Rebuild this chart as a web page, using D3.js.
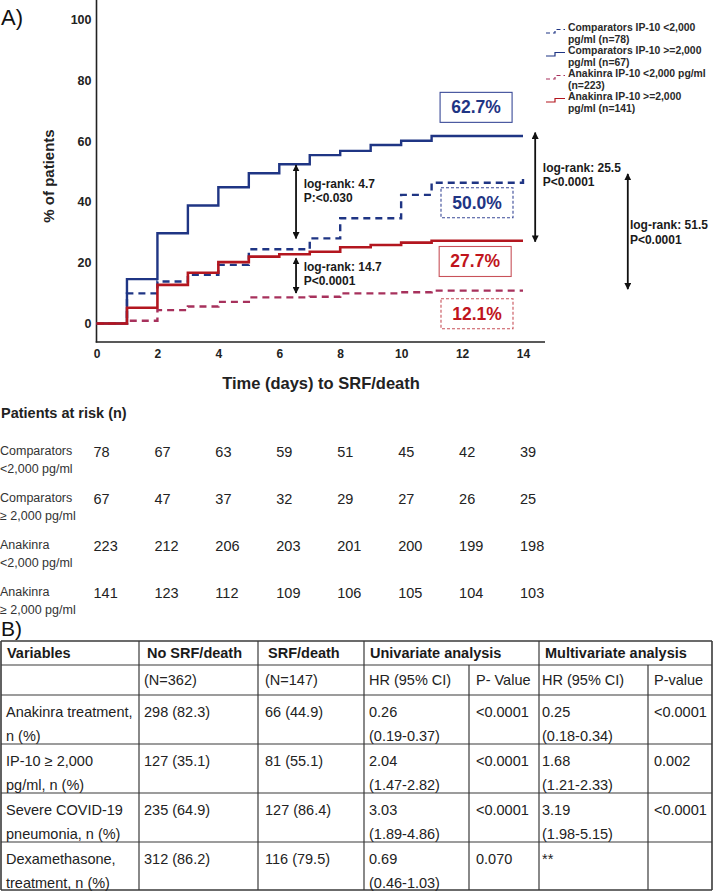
<!DOCTYPE html>
<html><head><meta charset="utf-8">
<script src="https://cdn.jsdelivr.net/npm/d3@7"></script>
<style>
body{margin:0;background:#fff}
svg{display:block}
text{font-family:"Liberation Sans",Arial,Helvetica,sans-serif}
</style>
</head><body>
<svg id="chart" width="713" height="892"></svg>
<script>
// ---------- DATA ----------
const days      = [0, 1, 2, 3, 4, 5, 6, 7, 8, 9, 10, 11, 14];
const compLow   = [0, 9.9, 13.8, 16.0, 19.3, 24.4, 24.4, 28.0, 34.6, 34.6, 42.3, 46.3, 48.8];
const compHigh  = [0, 14.6, 29.7, 38.8, 44.8, 49.4, 52.4, 55.4, 56.8, 58.7, 60.1, 61.7, 61.7];
const anakLow   = [0, 0.9, 4.4, 5.6, 7.1, 8.6, 8.6, 8.8, 9.9, 9.9, 10.3, 10.8, 10.8];
const anakHigh  = [0, 5.2, 12.7, 16.7, 20.2, 22.0, 22.8, 23.6, 25.1, 25.8, 26.6, 27.2, 27.2];

const yTicks = [0, 20, 40, 60, 80, 100];
const xTicks = [0, 2, 4, 6, 8, 10, 12, 14];

const legendLabels = [
  ["Comparators IP-10 <2,000", "pg/ml (n=78)"],
  ["Comparators IP-10 >=2,000", "pg/ml (n=67)"],
  ["Anakinra IP-10 <2,000 pg/ml", "(n=223)"],
  ["Anakinra IP-10 >=2,000", "pg/ml (n=141)"]
];

const finalPct = ["62.7%", "50.0%", "27.7%", "12.1%"];
const logRankTexts = [
  ["log-rank: 4.7", "P:<0.030"],
  ["log-rank: 14.7", "P<0.0001"],
  ["log-rank: 25.5", "P<0.0001"],
  ["log-rank: 51.5", "P<0.0001"]
];

const riskDays = [0, 2, 4, 6, 8, 10, 12, 14];
const riskGroups = [
  ["Comparators", "<2,000 pg/ml"],
  ["Comparators", "\u2265 2,000 pg/ml"],
  ["Anakinra", "<2,000 pg/ml"],
  ["Anakinra", "\u2265 2,000 pg/ml"]
];
const riskCounts = [
  [78, 67, 63, 59, 51, 45, 42, 39],
  [67, 47, 37, 32, 29, 27, 26, 25],
  [223, 212, 206, 203, 201, 200, 199, 198],
  [141, 123, 112, 109, 106, 105, 104, 103]
];

const tblHeader1 = ["Variables", "No SRF/death", "SRF/death", "Univariate analysis", "Multivariate analysis"];
const tblHeader2 = ["", "(N=362)", "(N=147)", "HR (95% CI)", "P- Value", "HR (95% CI)", "P-value"];
const tblVariables = [
  ["Anakinra treatment,", "n (%)"],
  ["IP-10 \u2265 2,000", "pg/ml, n (%)"],
  ["Severe COVID-19", "pneumonia, n (%)"],
  ["Dexamethasone,", "treatment, n (%)"]
];
const tblNoSRF  = ["298 (82.3)", "127 (35.1)", "235 (64.9)", "312 (86.2)"];
const tblSRF    = ["66 (44.9)", "81 (55.1)", "127 (86.4)", "116 (79.5)"];
const tblUniHR  = ["0.26", "2.04", "3.03", "0.69"];
const tblUniCI  = ["(0.19-0.37)", "(1.47-2.82)", "(1.89-4.86)", "(0.46-1.03)"];
const tblUniP   = ["<0.0001", "<0.0001", "<0.0001", "0.070"];
const tblMulHR  = ["0.25", "1.68", "3.19", "**"];
const tblMulCI  = ["(0.18-0.34)", "(1.21-2.33)", "(1.98-5.15)", ""];
const tblMulP   = ["<0.0001", "0.002", "<0.0001", ""];

// ---------- LAYOUT / STYLE ----------
const svg = d3.select("#chart");
const BLUE = "#1f3584", RED = "#b3161f", PINK = "#a7315c";
const x = d3.scaleLinear().domain([0, 14]).range([96.5, 523]);
const y = d3.scaleLinear().domain([0, 100]).range([323.5, 19.5]);
const xAxisY = 342;

svg.append("text").attr("x", 1).attr("y", 25).attr("font-size", 22).attr("fill", "#111").text("A)");

svg.append("line").attr("x1", x(0)).attr("x2", x(0)).attr("y1", 0).attr("y2", xAxisY + 0.5)
  .attr("stroke", "#222").attr("stroke-width", 1.6);
svg.append("line").attr("x1", x(0) - 0.8).attr("x2", 545).attr("y1", xAxisY).attr("y2", xAxisY)
  .attr("stroke", "#222").attr("stroke-width", 1.6);

const gy = svg.append("g").attr("transform", `translate(${x(0)},0)`)
  .call(d3.axisLeft(y).tickValues(yTicks).tickSize(0).tickPadding(5));
gy.select(".domain").remove();
gy.selectAll("text").attr("font-size", 12.5).attr("font-weight", "bold").attr("fill", "#222")
  .attr("font-family", '"Liberation Sans",Arial,sans-serif');

const gx = svg.append("g").attr("transform", `translate(0,${xAxisY})`)
  .call(d3.axisBottom(x).tickValues(xTicks).tickSize(0).tickPadding(7));
gx.select(".domain").remove();
gx.selectAll("text").attr("font-size", 12).attr("font-weight", "bold").attr("fill", "#222")
  .attr("font-family", '"Liberation Sans",Arial,sans-serif');

svg.append("text").attr("transform", "translate(54,176) rotate(-90)")
  .attr("text-anchor", "middle").attr("font-size", 15).attr("font-weight", "bold").attr("fill", "#222")
  .text("% of patients");
svg.append("text").attr("x", 321).attr("y", 389).attr("text-anchor", "middle")
  .attr("font-size", 16.5).attr("font-weight", "bold").attr("fill", "#222")
  .text("Time (days) to SRF/death");

const line = d3.line().x(d => x(d[0])).y(d => y(d[1])).curve(d3.curveStepAfter);
const series = [
  {vals: compLow, color: BLUE, dash: "7,5", w: 2.4},
  {vals: compHigh, color: BLUE, dash: null, w: 2.4},
  {vals: anakLow, color: PINK, dash: "7,5", w: 2.4},
  {vals: anakHigh, color: RED, dash: null, w: 2.6}
];
series.forEach(s => {
  svg.append("path").datum(days.map((d, i) => [d, s.vals[i]]))
    .attr("d", line).attr("fill", "none").attr("stroke", s.color)
    .attr("stroke-width", s.w).attr("stroke-dasharray", s.dash);
});

const defs = svg.append("defs");
defs.append("marker").attr("id", "ah").attr("viewBox", "0 0 10 10").attr("refX", 9).attr("refY", 5)
  .attr("markerWidth", 7).attr("markerHeight", 7).attr("orient", "auto-start-reverse")
  .attr("markerUnits", "userSpaceOnUse")
  .append("path").attr("d", "M0,0 L10,5 L0,10 z").attr("fill", "#111");
const arrows = [
  {day: 6.55, from: 52.1, to: 28.0},
  {day: 6.55, from: 21.5, to: 10.0},
  {day: 14.40, from: 62.8, to: 26.9},
  {day: 17.44, from: 49.2, to: 11.3}
];
arrows.forEach(a => {
  svg.append("line").attr("x1", x(a.day)).attr("x2", x(a.day)).attr("y1", y(a.from)).attr("y2", y(a.to))
    .attr("stroke", "#111").attr("stroke-width", 1.8)
    .attr("marker-start", "url(#ah)").attr("marker-end", "url(#ah)");
});
const lrPos = [
  {day: 6.80, v: 46.1},
  {day: 6.80, v: 18.8},
  {day: 14.65, v: 51.4},
  {day: 17.51, v: 32.4}
];
lrPos.forEach((p, i) => {
  logRankTexts[i].forEach((t, j) => {
    svg.append("text").attr("x", x(p.day)).attr("y", y(p.v) + j * 14.8 + 4.3)
      .attr("font-size", 12).attr("font-weight", "bold").attr("fill", "#1a1a1a").text(t);
  });
});

const boxes = [
  {day: 12.46, v: 71.1, stroke: "#3a4a98", dash: null, fill: BLUE},
  {day: 12.49, v: 39.7, stroke: "#3a4a98", dash: "3,2", fill: BLUE},
  {day: 12.43, v: 20.4, stroke: "#c8525a", dash: null, fill: "#c0141c"},
  {day: 12.49, v: 3.2, stroke: "#c8525a", dash: "3,2", fill: "#c0141c"}
];
boxes.forEach((b, i) => {
  const cx = x(b.day), cy = y(b.v);
  svg.append("rect").attr("x", cx - 36).attr("y", cy - 15).attr("width", 72).attr("height", 30)
    .attr("fill", "#fff").attr("stroke", b.stroke).attr("stroke-width", 1.1)
    .attr("stroke-dasharray", b.dash);
  svg.append("text").attr("x", cx).attr("y", cy + 6).attr("text-anchor", "middle")
    .attr("font-size", 17.5).attr("font-weight", "bold").attr("fill", b.fill).text(finalPct[i]);
});

legendLabels.forEach((lab, i) => {
  const s = series[i];
  const top = 27 + i * 23;
  lab.forEach((t, j) => {
    svg.append("text").attr("x", 568).attr("y", top + j * 11.5 + 4)
      .attr("font-size", 10.4).attr("font-weight", "bold").attr("fill", "#2a2a2a").text(t);
  });
  const iy = top + 4;
  svg.append("path").attr("d", `M546,${iy + 2}H555V${iy - 1.5}H565`)
    .attr("fill", "none").attr("stroke", s.color).attr("stroke-width", 1.2)
    .attr("stroke-dasharray", s.dash ? "4,3" : null);
});

svg.append("text").attr("x", 1).attr("y", 418).attr("font-size", 14.5).attr("font-weight", "bold")
  .attr("fill", "#222").text("Patients at risk (n)");
riskGroups.forEach((g, i) => {
  const cy = 452 + i * 47;
  g.forEach((t, j) => {
    svg.append("text").attr("x", 0).attr("y", cy - 2 + j * 18 + 4.5)
      .attr("font-size", 12.5).attr("fill", "#333").text(t);
  });
  riskCounts[i].forEach((n, k) => {
    svg.append("text").attr("x", x(riskDays[k]) - 3).attr("y", cy + 5.2)
      .attr("font-size", 14.5).attr("fill", "#222").text(n);
  });
});

// ---------- Table B ----------
svg.append("text").attr("x", 1).attr("y", 636).attr("font-size", 21).attr("fill", "#111").text("B)");
const colX = [1, 139, 258, 364, 469, 539, 648, 712];
const rowY = [641, 665, 695, 744, 793, 842, 890];
const tg = svg.append("g");
const lc = "#3a3a3a";
rowY.forEach((yy, i) => {
  tg.append("line").attr("x1", colX[0]).attr("x2", colX[7]).attr("y1", yy).attr("y2", yy)
    .attr("stroke", lc).attr("stroke-width", (i === 0 || i === rowY.length - 1) ? 1.6 : 1.2);
});
colX.forEach((xx, i) => {
  const full = !(i === 4 || i === 6);
  tg.append("line").attr("x1", xx).attr("x2", xx)
    .attr("y1", full ? rowY[0] : rowY[1]).attr("y2", rowY[rowY.length - 1])
    .attr("stroke", lc).attr("stroke-width", (i === 0 || i === 7) ? 1.6 : 1.2);
});
const fs = 14.5;
const h1X = [7, 147, 268, 370, 545];
tblHeader1.forEach((t, i) => {
  tg.append("text").attr("x", h1X[i]).attr("y", 658).attr("font-size", fs)
    .attr("font-weight", "bold").attr("fill", "#1a1a1a").text(t);
});
const cX = [6, 144, 265, 369, 476, 542, 654];
tblHeader2.forEach((t, i) => {
  tg.append("text").attr("x", cX[i]).attr("y", 685).attr("font-size", fs).attr("fill", "#222").text(t);
});
tblVariables.forEach((v, r) => {
  const top = rowY[2 + r];
  const line1 = top + 21.5, line2 = top + 45.5;
  const cells = [
    [v[0], v[1]], [tblNoSRF[r], ""], [tblSRF[r], ""], [tblUniHR[r], tblUniCI[r]],
    [tblUniP[r], ""], [tblMulHR[r], tblMulCI[r]], [tblMulP[r], ""]
  ];
  cells.forEach((c, ci) => {
    tg.append("text").attr("x", cX[ci]).attr("y", line1).attr("font-size", fs).attr("fill", "#222").text(c[0]);
    if (c[1]) tg.append("text").attr("x", cX[ci]).attr("y", line2).attr("font-size", fs).attr("fill", "#222").text(c[1]);
  });
});
</script>
</body></html>
